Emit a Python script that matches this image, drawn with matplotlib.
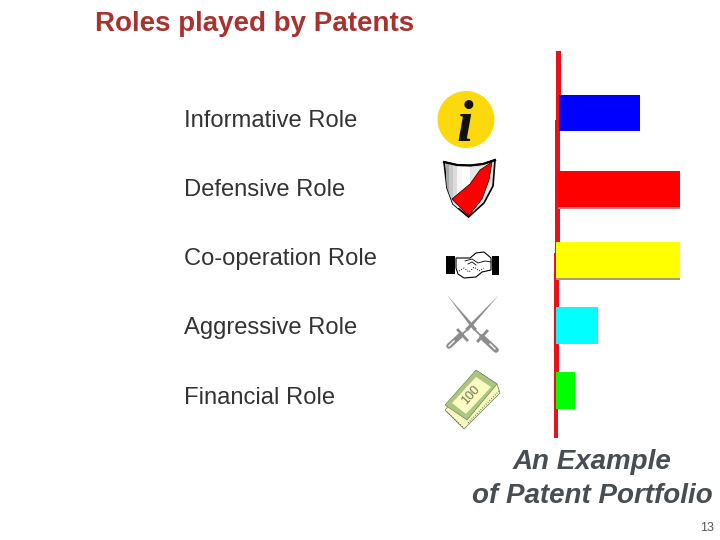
"""Roles played by patents: slide with icons and a small bar chart."""
import matplotlib
matplotlib.use("Agg")
import matplotlib.pyplot as plt
from matplotlib.patches import Circle, Polygon, Rectangle

plt.rcParams["font.family"] = ["Liberation Sans", "DejaVu Sans"]

TITLE = "Roles played by Patents"
ROLES = ["Informative Role", "Defensive Role", "Co-operation Role",
         "Aggressive Role", "Financial Role"]
VALUES = [84, 124, 124, 42, 19]
BAR_COLORS = ["#0000ff", "#ff0000", "#ffff00", "#00ffff", "#00ff00"]
CAPTION = ["An Example", "of Patent Portfolio"]
PAGE = "13"

INK = "#333333"
CAPTION_INK = "#474d52"
TITLE_RED = "#a9322e"
AXIS_RED = "#e8101a"


def draw_info(ax):
    ax.add_patch(Circle((466, 119.5), 28.5, color="#fbd90c", lw=0, zorder=3))
    ax.text(465, 127, "i", family="Liberation Serif", style="italic", fontweight="bold",
            fontsize=43, color="#111111", ha="center", va="center", zorder=4)


def draw_shield(ax):
    outline = [(444, 162), (457, 165), (470, 165.5), (483, 164), (495, 160), (493, 186),
               (484, 203), (468.5, 217), (453, 204), (447, 188)]
    body = Polygon(outline, closed=True, fc="#e6e6e6", ec="black", lw=1.2, zorder=3)
    ax.add_patch(body)
    for x0, x1, col in [(446, 449, "#a8a8a8"), (449, 453, "#c8c8c8"), (453, 457, "#dcdcdc"),
                        (457, 462, "#f6f6f6"), (462, 470, "#ffffff")]:
        band = Rectangle((x0, 164), x1 - x0, 44, color=col, lw=0, zorder=3.2)
        ax.add_patch(band)
        band.set_clip_path(body)
    sash = [(492, 162), (480, 170), (470, 184), (452, 199), (468.5, 216), (482, 199), (489, 180)]
    ax.add_patch(Polygon(sash, closed=True, fc="#ff0000", ec="black", lw=0.5, zorder=4))
    ax.plot([444, 457, 470, 483, 495], [162, 165, 165.5, 164, 160], color="black", lw=1.6, zorder=5)


def draw_handshake(ax):
    ax.add_patch(Rectangle((446, 256), 9, 18, color="black", lw=0, zorder=3))
    ax.add_patch(Rectangle((492, 256), 7, 19, color="black", lw=0, zorder=3))
    hands = [(456, 258), (470, 258), (476, 253), (484, 252), (491, 258), (491, 270),
             (482, 272), (476, 277), (464, 278), (458, 274), (456, 268)]
    ax.add_patch(Polygon(hands, closed=True, fc="white", ec="black", lw=0.8, zorder=3))
    ax.plot([465, 472, 478, 485, 491], [261, 259, 263, 261, 262], color="black", lw=0.6, zorder=4)
    ax.plot([459, 464, 469, 474, 479, 484], [271, 268, 272, 267, 271, 268],
            color="black", lw=0.7, ls=":", zorder=4)
    ax.plot([468, 472, 476], [264, 262, 265], color="black", lw=0.6, zorder=4)


def draw_daggers(ax):
    grey = "#8c8c8c"
    # blades taper to the tip
    ax.add_patch(Polygon([(447, 295), (477, 329), (474, 331)], closed=True, fc=grey, lw=0, zorder=3))
    ax.add_patch(Polygon([(499, 295), (468, 331), (465, 329)], closed=True, fc=grey, lw=0, zorder=3))
    # hilts and guards
    ax.plot([475, 496], [330, 350], color=grey, lw=1.2, zorder=3)
    ax.plot([482, 496], [337, 350], color=grey, lw=4, zorder=3, solid_capstyle="round")
    ax.plot([467, 449], [330, 346], color=grey, lw=1.2, zorder=3)
    ax.plot([461, 449], [335, 346], color=grey, lw=4, zorder=3, solid_capstyle="round")
    ax.plot([478, 487], [341, 331], color=grey, lw=2, zorder=3)
    ax.plot([458, 467], [330, 340], color=grey, lw=2, zorder=3)
    ax.plot([449, 454], [346, 341], color="white", lw=1, zorder=4)
    ax.plot([490, 495], [344, 349], color="white", lw=1, zorder=4)


def draw_money(ax):
    stack = [(445, 410), (477, 371), (497, 384), (500, 393), (464, 429)]
    ax.add_patch(Polygon(stack, closed=True, fc="#f8f8c4", ec="#6c7550", lw=0.5, zorder=3))
    note = [(445, 405), (476, 370), (497, 384), (467, 420)]
    ax.add_patch(Polygon(note, closed=True, fc="#a9c77f", ec="#6c7550", lw=0.4, zorder=3.5))
    inner = [(452, 403), (476, 377), (491, 387), (466, 414)]
    ax.add_patch(Polygon(inner, closed=True, fc="#fdfcc4", ec="none", zorder=4))
    ax.text(471, 395, "100", fontsize=9, rotation=48, color="#6c7550",
            ha="center", va="center", zorder=5)
    ax.plot([447, 464], [412, 428], color="#55603a", lw=0.7, ls=":", zorder=5)
    ax.plot([468, 499], [423, 391], color="#55603a", lw=0.7, ls=":", zorder=5)


def main():
    fig = plt.figure(figsize=(7.2, 5.4), dpi=100, facecolor="white")
    # page axes in pixels, y pointing down
    page = fig.add_axes([0, 0, 1, 1])
    page.set_xlim(0, 720)
    page.set_ylim(540, 0)
    page.axis("off")

    page.text(95, 24, TITLE, fontsize=20, fontweight="bold", color=TITLE_RED, va="center")
    for role, y in zip(ROLES, [121, 190, 259, 328, 398]):
        page.text(184, y, role, fontsize=17.1, color=INK, va="center")
    page.text(592, 462, CAPTION[0], fontsize=20, fontweight="bold", style="italic",
              color=CAPTION_INK, ha="center", va="center")
    page.text(592, 496, CAPTION[1], fontsize=20, fontweight="bold", style="italic",
              color=CAPTION_INK, ha="center", va="center")
    page.text(714, 528, PAGE, fontsize=9, color="#555555", ha="right", va="center")

    # the vertical red axis drifts left going down, it was hand drawn
    for x0, x1, y0, y1 in [(556, 561, 51, 125), (555, 560, 120, 255),
                           (554, 559, 253, 390), (553.5, 558, 385, 438)]:
        page.add_patch(Rectangle((x0, y0), x1 - x0, y1 - y0, color=AXIS_RED, lw=0, zorder=2))

    draw_info(page)
    draw_shield(page)
    draw_handshake(page)
    draw_daggers(page)
    draw_money(page)

    # bars on their own axes; x unit is one pixel from the axis line
    bar_ax = fig.add_axes([556 / 720, 0, 164 / 720, 1])
    bar_ax.set_xlim(0, 164)
    bar_ax.set_ylim(540, 0)
    bar_ax.axis("off")
    bar_ax.patch.set_alpha(0)
    ys = [113, 189, 260, 325.5, 390.5]
    heights = [36, 36, 36, 37, 37]
    lefts = [3, 2, 0, 0, 0]
    widths = [v - l for v, l in zip(VALUES, lefts)]
    # red and yellow bars have a thin grey shadow under them
    for i, col in ((1, "#c88080"), (2, "#a0a080")):
        bar_ax.barh(ys[i] + 1.5, widths[i], height=heights[i], left=lefts[i], color=col, lw=0, zorder=2)
    bar_ax.barh(ys, widths, height=heights, left=lefts, color=BAR_COLORS, lw=0, zorder=3)

    fig.savefig("out.png", dpi=100, facecolor="white")


if __name__ == "__main__":
    main()
